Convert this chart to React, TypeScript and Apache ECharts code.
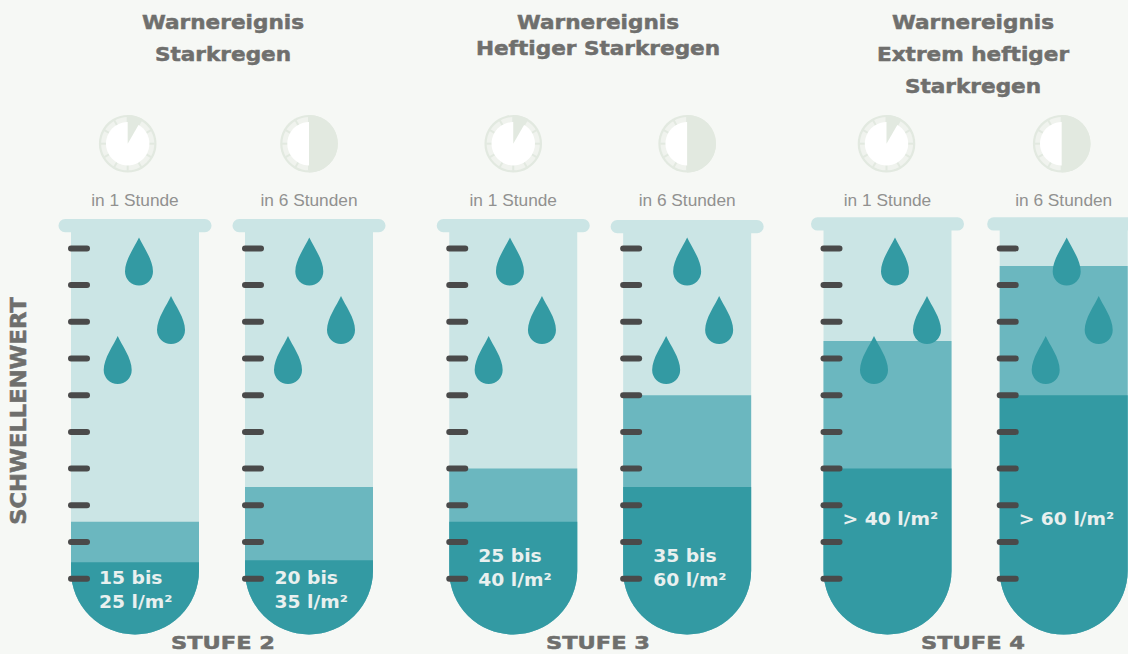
import React, { useEffect, useRef } from "react";
import * as echarts from "echarts";

// ---- Values ----
const stages = ["STUFE 2", "STUFE 3", "STUFE 4"];
const headings = [
  ["Warnereignis", "Starkregen"],
  ["Warnereignis", "Heftiger Starkregen"],
  ["Warnereignis", "Extrem heftiger", "Starkregen"],
];
const durationLabels = ["in 1 Stunde", "in 6 Stunden"];
const durationHours = [1, 6];
const axisName = "SCHWELLENWERT";

// Thresholds in l/m², two tubes per stage.
const lowerLimits = [15, 20, 25, 35, 40, 60];
const upperLimits = [25, 35, 40, 60, 75, 95];
const openEnded = [false, false, false, false, true, true];

// The gauge is not evenly divided: l/m² against graduation marks on the tube.
const gaugeValues = [15, 20, 25, 35, 40, 60, 75, 95];
const gaugeMarks = [0.45, 0.5, 1.55, 2.5, 3, 5, 6.48, 8.52];
const graduations = [0, 1, 2, 3, 4, 5, 6, 7, 8, 9];

// ---- Layout ----
const WIDTH = 1128;
const HEIGHT = 654;
const TUBE_HALF = 64;
const MARK_STEP = 36.7;
const MARK_ZERO_Y = 578.7;
const AXIS_MIN = -1.52;
const AXIS_MAX = 9.5;
const gridBoxes = [
  { left: 48, width: 348 },
  { left: 426.3, width: 347.8 },
  { left: 799.4, width: 352.4 },
];
const headingCentres = [223, 598, 973];
const headingRows = [
  [22, 54],
  [22, 48],
  [22, 54, 86],
];
const clockShift = [-7.3, 0, 0, 0, -1, -2];
const rimShift = [0, 0, 0, 1, -1.7, -1.7];
const dropRows = [237.5, 296, 336];
const dropShift = [
  [4, 36, -17.3],
  [0.3, 32, -21],
  [-3.3, 28.7, -24.6],
  [0, 32, -21],
  [7.5, 39.5, -13.5],
  [3, 35, -18],
];
const labelInset = [28, 29.5, 29, 30, 19, 19];
const labelFirstRow = [578, 578, 556, 556, 519, 519];

const PALE = "#cbe5e5";
const MEDIUM = "#6bb7bf";
const DARK = "#339aa3";
const MARK_COLOR = "#4a4a4a";
const CLOCK_COLOR = "#e2e9e0";
const BAND_COLOR = "#f0f3ee";
const BACKGROUND = "#f6f8f5";
const HEADING_COLOR = "#6f6f6d";
const BOLD_FONT = "DejaVu Sans";

const markOf = (value: number) => gaugeMarks[gaugeValues.indexOf(value)];

const bodyPath = (cx: number, top: number, bottom: number) => {
  const l = cx - TUBE_HALF;
  const r = cx + TUBE_HALF;
  const shoulder = bottom - TUBE_HALF;
  return `M${l} ${top}L${r} ${top}L${r} ${shoulder}A${TUBE_HALF} ${TUBE_HALF} 0 0 1 ${l} ${shoulder}Z`;
};

const dropPath = (cx: number, y: number) =>
  `M${cx} ${y}C${cx + 4} ${y + 9} ${cx + 14} ${y + 22} ${cx + 14} ${y + 34}` +
  `A14 14 0 0 1 ${cx - 14} ${y + 34}C${cx - 14} ${y + 22} ${cx - 4} ${y + 9} ${cx} ${y}Z`;

const clockElements = (cx: number, cy: number, hours: number) => {
  const R = 28.8;
  const items: any[] = [
    { type: "circle", shape: { cx, cy, r: R }, style: { fill: CLOCK_COLOR } },
    { type: "circle", shape: { cx, cy, r: R - 2.2 }, style: { fill: BAND_COLOR } },
  ];
  for (let i = 0; i < 12; i++) {
    const a = (i * Math.PI) / 6;
    items.push({
      type: "line",
      shape: {
        x1: cx + Math.sin(a) * 21,
        y1: cy - Math.cos(a) * 21,
        x2: cx + Math.sin(a) * 27,
        y2: cy - Math.cos(a) * 27,
      },
      style: { stroke: CLOCK_COLOR, lineWidth: 2 },
    });
  }
  items.push({ type: "circle", shape: { cx, cy, r: 21.7 }, style: { fill: "#ffffff" } });
  items.push({
    type: "sector",
    shape: {
      cx,
      cy,
      r: R,
      r0: 0,
      startAngle: -Math.PI / 2,
      endAngle: -Math.PI / 2 + (hours / 12) * Math.PI * 2,
    },
    style: { fill: CLOCK_COLOR },
  });
  return items;
};

const buildOption = () => {
  const grid = gridBoxes.map((b) => ({
    left: b.left,
    width: b.width,
    top: MARK_ZERO_Y - AXIS_MAX * MARK_STEP,
    height: (AXIS_MAX - AXIS_MIN) * MARK_STEP,
    containLabel: false,
    outerBoundsMode: "none",
  }));
  const xAxis = gridBoxes.map((_, g) => ({
    type: "category",
    gridIndex: g,
    position: "top",
    data: durationLabels,
    axisLine: { show: false },
    axisTick: { show: false },
    axisLabel: {
      interval: 0,
      margin: 22,
      fontFamily: "Liberation Sans",
      fontSize: 17.3,
      color: "#919190",
    },
  }));
  const yAxis = gridBoxes.map((_, g) => ({
    type: "value",
    gridIndex: g,
    min: AXIS_MIN,
    max: AXIS_MAX,
    show: false,
  }));

  const series = stages.map((_, g) => ({
    type: "custom",
    xAxisIndex: g,
    yAxisIndex: g,
    encode: { x: 0, y: [1, 2] },
    clip: false,
    data: durationLabels.map((__, d) => [
      d,
      markOf(lowerLimits[g * 2 + d]),
      markOf(upperLimits[g * 2 + d]),
    ]),
    renderItem: (_p: any, api: any) => {
      const d = api.value(0);
      const tube = g * 2 + d;
      const cx = api.coord([d, 0])[0];
      const yOf = (mark: number) => api.coord([d, mark])[1];
      const bottom = yOf(AXIS_MIN);
      const bodyTop = 225 + rimShift[tube];
      const children: any[] = [];

      children.push(...clockElements(cx + clockShift[tube], 143.7, durationHours[d]));
      children.push({
        type: "path",
        shape: { pathData: bodyPath(cx, bodyTop, bottom) },
        style: { fill: PALE },
      });
      children.push({
        type: "rect",
        shape: {
          x: cx - 76.5,
          y: 219 + rimShift[tube],
          width: 153,
          height: 13.3,
          r: 6.6,
        },
        style: { fill: PALE },
      });
      children.push({
        type: "path",
        shape: { pathData: bodyPath(cx, yOf(api.value(2)), bottom) },
        style: { fill: MEDIUM },
      });
      children.push({
        type: "path",
        shape: { pathData: bodyPath(cx, yOf(api.value(1)), bottom) },
        style: { fill: DARK },
      });
      dropRows.forEach((y, i) => {
        children.push({
          type: "path",
          shape: { pathData: dropPath(cx + dropShift[tube][i], y) },
          style: { fill: DARK },
        });
      });
      graduations.forEach((m) => {
        children.push({
          type: "rect",
          shape: { x: cx - TUBE_HALF - 3, y: yOf(m) - 3, width: 22, height: 6, r: 3 },
          style: { fill: MARK_COLOR },
        });
      });
      const lines = openEnded[tube]
        ? [`> ${lowerLimits[tube]} l/m²`]
        : [`${lowerLimits[tube]} bis`, `${upperLimits[tube]} l/m²`];
      lines.forEach((text, i) => {
        children.push({
          type: "text",
          x: cx - TUBE_HALF + labelInset[tube],
          y: labelFirstRow[tube] + i * 24,
          scaleX: 1.1,
          style: {
            text,
            fill: "#e9f0ef",
            fontFamily: BOLD_FONT,
            fontSize: 17,
            fontWeight: "bold",
            align: "left",
            verticalAlign: "middle",
          },
        });
      });
      return { type: "group", children };
    },
  }));

  const wideText = (text: string, x: number, y: number, size: number, scaleX: number, rotation = 0) => ({
    type: "text",
    x,
    y,
    scaleX,
    rotation,
    style: {
      text,
      fill: HEADING_COLOR,
      stroke: HEADING_COLOR,
      lineWidth: 0.5,
      fontFamily: BOLD_FONT,
      fontSize: size,
      fontWeight: "bold",
      align: "center",
      verticalAlign: "middle",
    },
  });

  const graphic: any[] = [];
  headings.forEach((rows, g) => {
    rows.forEach((text, i) => {
      graphic.push(wideText(text, headingCentres[g], headingRows[g][i], 20, 1.08));
    });
    graphic.push(wideText(stages[g], headingCentres[g], 643, 18, 1.25));
  });
  graphic.push(wideText(axisName, 19, 411, 21.5, 1.053, Math.PI / 2));

  return { animation: false, backgroundColor: BACKGROUND, grid, xAxis, yAxis, series, graphic };
};

export default function App() {
  const host = useRef<HTMLDivElement>(null);
  useEffect(() => {
    const chart = echarts.init(host.current!, undefined, { renderer: "svg" });
    chart.setOption(buildOption() as any);
    return () => chart.dispose();
  }, []);
  return (
    <div
      ref={host}
      style={{ position: "fixed", left: 0, top: 0, width: WIDTH, height: HEIGHT }}
    />
  );
}
